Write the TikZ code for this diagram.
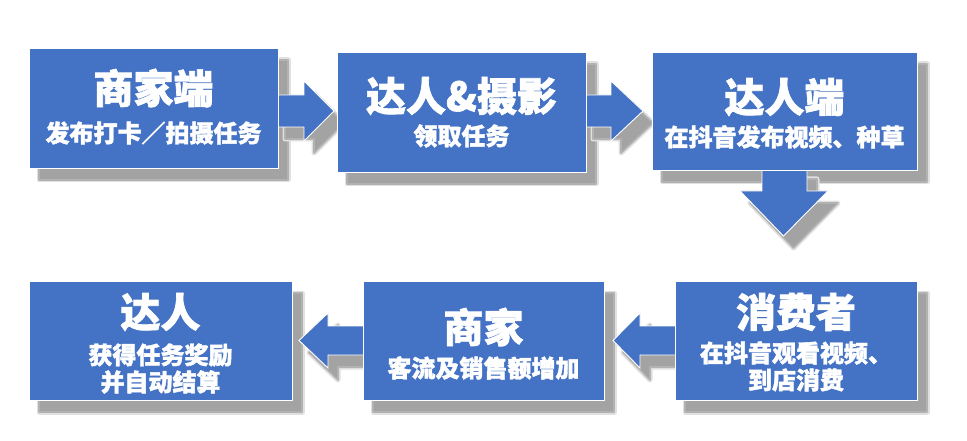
\documentclass[tikz,border=0pt]{standalone}
\usepackage{fontspec}
\setmainfont{Noto Sans CJK SC}[BoldFeatures={FakeBold=1.6}]
\usetikzlibrary{calc}
\pgfdeclarelayer{bglayer}
\pgfdeclarelayer{shadowlayer}
\pgfdeclarelayer{arrowlayer}
\pgfsetlayers{bglayer,shadowlayer,arrowlayer,main}
\definecolor{boxblue}{HTML}{4472C4}
\tikzset{
  boxnode/.style={fill=boxblue, draw=white, line width=0.9pt, inner sep=0pt, outer sep=0pt},
  arrowfill/.style={fill=boxblue, draw=white, line width=0.9pt, line join=miter},
  softshadow/.style={preaction={fill=black!12, draw=black!12, line width=5pt, line join=round},
                     fill=black!36, draw=black!30, line width=1.6pt, line join=round},
  shadowshift/.style={transform canvas={shift={(10pt,-12pt)}}},
  titletext/.style={text=white, font=\fontsize{40}{44}\selectfont\bfseries, inner sep=0pt, anchor=center},
  subtext/.style={text=white, font=\fontsize{24}{27}\selectfont\bfseries, inner sep=0pt, anchor=center}
}
\newcommand\apathA{($(a1s)+(-3,-16)$) -- ($(a1t)+(-30,-16)$) -- ($(a1t)+(-30,-30)$) -- (a1t) -- ($(a1t)+(-30,30)$) -- ($(a1t)+(-30,16)$) -- ($(a1s)+(-3,16)$) -- cycle}
\newcommand\apathB{($(a2s)+(-3,-16)$) -- ($(a2t)+(-32,-16)$) -- ($(a2t)+(-32,-30)$) -- (a2t) -- ($(a2t)+(-32,30)$) -- ($(a2t)+(-32,16)$) -- ($(a2s)+(-3,16)$) -- cycle}
\newcommand\apathC{($(a3s)+(-22.5,-3)$) -- ($(a3s)+(-22.5,21)$) -- ($(a3s)+(-44.5,21)$) -- (a3t) -- ($(a3s)+(43.5,21)$) -- ($(a3s)+(22.5,21)$) -- ($(a3s)+(22.5,-3)$) -- cycle}
\newcommand\apathD{($(a4s)+(3,-14.5)$) -- ($(a4t)+(29,-14.5)$) -- ($(a4t)+(29,-27.5)$) -- (a4t) -- ($(a4t)+(29,27.5)$) -- ($(a4t)+(29,14.5)$) -- ($(a4s)+(3,14.5)$) -- cycle}
\newcommand\apathE{($(a5s)+(3,-14.5)$) -- ($(a5t)+(27,-14.5)$) -- ($(a5t)+(27,-27.5)$) -- (a5t) -- ($(a5t)+(27,27.5)$) -- ($(a5t)+(27,14.5)$) -- ($(a5s)+(3,14.5)$) -- cycle}
\begin{document}
\begin{tikzpicture}[x=1pt,y=-1pt]
\useasboundingbox (0,0) rectangle (967,441);
\begin{pgfonlayer}{bglayer}
\fill[white] (0,0) rectangle (967,441);
\end{pgfonlayer}
% boxes
\node[boxnode, minimum width=249pt, minimum height=120pt] (b1) at (153.5,108) {};
\node[boxnode, minimum width=249pt, minimum height=120pt] (b2) at (461.5,112) {};
\node[boxnode, minimum width=265pt, minimum height=118pt] (b3) at (784.5,111) {};
\node[boxnode, minimum width=263pt, minimum height=119pt] (b4) at (160.5,340.5) {};
\node[boxnode, minimum width=241pt, minimum height=119pt] (b5) at (483.5,340.5) {};
\node[boxnode, minimum width=242pt, minimum height=119pt] (b6) at (796,340.5) {};
% texts
\node[titletext] (t1) at ($(b1.north)+(0,40)$) {商家端};
\node[subtext] (s1) at ($(b1.north)+(0,85)$) {发布打卡／拍摄任务};
\node[titletext] (t2) at ($(b2.north)+(0,44)$) {达人\&摄影};
\node[subtext] (s2) at ($(b2.north)+(0,84)$) {领取任务};
\node[titletext] (t3) at ($(b3.north)+(0,45)$) {达人端};
\node[subtext] (s3) at ($(b3.north)+(0,85)$) {在抖音发布视频、种草};
\node[titletext] (t4) at ($(b4.north)+(0,31)$) {达人};
\node[subtext] (s4) at ($(b4.north)+(0,74)$) {获得任务奖励};
\node[subtext] (s4b) at ($(b4.north)+(0,101)$) {并自动结算};
\node[titletext] (t5) at ($(b5.north)+(0,46)$) {商家};
\node[subtext] (s5) at ($(b5.north)+(0,87)$) {客流及销售额增加};
\node[titletext] (t6) at ($(b6.north)+(0,31)$) {消费者};
\node[subtext] (s6) at ($(b6.north)+(0,72)$) {在抖音观看视频、};
\node[subtext] (s6b) at ($(b6.north)+(0,99)$) {到店消费};
% arrow end points
\coordinate (a1t) at ($(b2.west)+(-3,-1)$);
\coordinate (a1s) at (b1.east |- a1t);
\coordinate (a2t) at ($(b3.west)+(-9,0)$);
\coordinate (a2s) at (b2.east |- a2t);
\coordinate (a3s) at (b3.south);
\coordinate (a3t) at ($(b3.south)+(-1,66)$);
\coordinate (a4t) at ($(b4.east)+(7,0)$);
\coordinate (a4s) at (b5.west |- a4t);
\coordinate (a5t) at ($(b5.east)+(9,0)$);
\coordinate (a5s) at (b6.west |- a5t);
% shadows
\begin{pgfonlayer}{shadowlayer}
\begin{scope}[shadowshift]
\foreach \b in {b1,b2,b3,b4,b5,b6}{
  \path[softshadow] (\b.south west) rectangle (\b.north east);
}
\path[softshadow] \apathA;
\path[softshadow] \apathB;
\path[softshadow] \apathC;
\path[softshadow] \apathD;
\path[softshadow] \apathE;
\end{scope}
\end{pgfonlayer}
% arrows
\begin{pgfonlayer}{arrowlayer}
\path[arrowfill] \apathA;
\path[arrowfill] \apathB;
\path[arrowfill] \apathC;
\path[arrowfill] \apathD;
\path[arrowfill] \apathE;
\end{pgfonlayer}
\end{tikzpicture}
\end{document}
